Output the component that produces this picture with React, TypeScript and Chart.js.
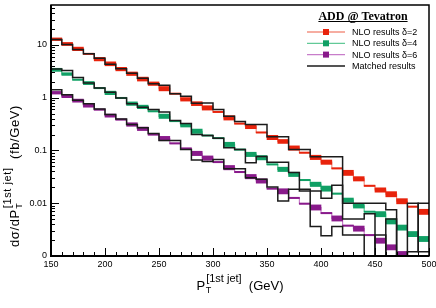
import React, { useEffect, useRef } from 'react';
import { Chart, registerables } from 'chart.js';

Chart.register(...registerables);

// ---- data ----
const binLow = [150, 160, 170, 180, 190, 200, 210, 220, 230, 240, 250, 260, 270, 280, 290, 300, 310, 320, 330, 340, 350, 360, 370, 380, 390, 400, 410, 420, 430, 440, 450, 460, 470, 480, 490];
const binUpperEnd = 500;

const nloDelta2 = [12.8, 10.4, 8.4, 6.76, 5.37, 4.38, 3.48, 2.84, 2.25, 1.84, 1.48, 1.19, 0.93, 0.77, 0.64, 0.537, 0.414, 0.323, 0.284, 0.219, 0.176, 0.148, 0.111, 0.0906, 0.0738, 0.0599, 0.0457, 0.0376, 0.029, 0.0214, 0.0178, 0.0148, 0.0109, 0.0086, 0.00686];
const relErrDelta2 = [0.06, 0.07, 0.08, 0.03, 0.08, 0.09, 0.08, 0.08, 0.09, 0.08, 0.1, 0.03, 0.08, 0.09, 0.1, 0.03, 0.1, 0.03, 0.1, 0.03, 0.1, 0.09, 0.1, 0.03, 0.1, 0.1, 0.03, 0.12, 0.1, 0.03, 0.1, 0.12, 0.12, 0.03, 0.12];

const nloDelta4 = [3.37, 2.8, 2.19, 1.89, 1.52, 1.23, 0.987, 0.77, 0.668, 0.552, 0.444, 0.36, 0.3, 0.231, 0.192, 0.171, 0.13, 0.104, 0.0841, 0.0728, 0.0544, 0.0438, 0.0352, 0.0275, 0.0228, 0.0189, 0.0152, 0.0114, 0.0089, 0.0069, 0.0062, 0.00452, 0.00345, 0.0026, 0.0021];
const relErrDelta4 = [0.07, 0.06, 0.03, 0.07, 0.03, 0.08, 0.03, 0.08, 0.08, 0.03, 0.1, 0.03, 0.08, 0.1, 0.03, 0.03, 0.1, 0.03, 0.1, 0.1, 0.03, 0.1, 0.1, 0.03, 0.1, 0.12, 0.03, 0.1, 0.1, 0.03, 0.12, 0.12, 0.12, 0.12, 0.12];

const nloDelta6 = [1.24, 1.06, 0.878, 0.706, 0.594, 0.457, 0.385, 0.31, 0.257, 0.2, 0.168, 0.136, 0.109, 0.0878, 0.0716, 0.0602, 0.0472, 0.039, 0.0319, 0.0264, 0.0189, 0.0168, 0.0126, 0.0098, 0.0083, 0.0065, 0.00514, 0.00376, 0.0033, 0.00249, 0.00195, 0.00146, 0.00109, 0.0008, 0.0006];
const relErrDelta6 = [0.06, 0.06, 0.07, 0.07, 0.03, 0.07, 0.03, 0.08, 0.08, 0.03, 0.1, 0.03, 0.03, 0.1, 0.1, 0.03, 0.1, 0.03, 0.1, 0.1, 0.03, 0.12, 0.03, 0.03, 0.12, 0.03, 0.12, 0.03, 0.12, 0.03, 0.12, 0.12, 0.12, 0.12, 0.12];

const matchedDelta2 = [12.7, 10.2, 8.2, 6.8, 5.56, 4.29, 3.53, 2.9, 2.33, 1.84, 1.71, 1.19, 1.06, 0.788, 0.795, 0.594, 0.444, 0.352, 0.31, 0.31, 0.181, 0.181, 0.104, 0.104, 0.076, 0.076, 0.076, 0.01, 0.01, 0.01, 0.01, 0.0075, 0, 0.01, 0.0012];
const matchedDelta4 = [3.48, 3.27, 2.42, 1.89, 1.52, 1.26, 0.987, 0.77, 0.656, 0.594, 0.537, 0.368, 0.323, 0.2, 0.192, 0.171, 0.112, 0.104, 0.0586, 0.077, 0.06, 0.06, 0.038, 0.0171, 0.0171, 0.0124, 0.0219, 0.005, 0.005, 0.0063, 0, 0.005, 0, 0.0012, 0.01];
const matchedDelta6 = [1.42, 1.14, 0.889, 0.77, 0.612, 0.478, 0.396, 0.31, 0.268, 0.209, 0.154, 0.154, 0.104, 0.0656, 0.062, 0.0676, 0.0451, 0.0451, 0.0305, 0.0284, 0.0203, 0.011, 0.0184, 0.0184, 0.00363, 0.00242, 0.00363, 0.0025, 0.0025, 0, 0.0025, 0, 0, 0, 0];

const xTickValues = [150, 200, 250, 300, 350, 400, 450, 500];
const xTickLabels = ['150', '200', '250', '300', '350', '400', '450', '500'];
const yTickValues = [10, 1, 0.1, 0.01, 0.001];
const yTickLabels = ['10', '1', '0.1', '0.01', '0'];
const yMin = 0.001;
const yMax = 57;

const legendTitle = 'ADD @ Tevatron';
const legendLabels = ['NLO results \u03b4=2', 'NLO results \u03b4=4', 'NLO results \u03b4=6', 'Matched results'];

// ---- styles ----
const bandColors = ['#e8230c', '#10a065', '#891a8b'];
const lineColors = ['#f39282', '#62c997', '#c87dca'];
const matchedColor = '#1b1b1b';
const SANS = '"Liberation Sans", Arial, Helvetica, sans-serif';
const SERIF = '"Liberation Serif", "Times New Roman", serif';

const edges = [...binLow, binUpperEnd];
const OFF_SCALE = 1e-6;

function stepPoints(vals: number[]) {
  return edges.map((x, i) => {
    const v = vals[Math.min(i, vals.length - 1)];
    return { x, y: v > 0 ? v : OFF_SCALE };
  });
}

function bandBars(vals: number[], errs: number[]) {
  return binLow.map((lo, i) => {
    const hi = edges[i + 1];
    const v = vals[i];
    const e = errs[i];
    return { x: (lo + hi) / 2, y: [v / (1 + e), v * (1 + e)] };
  });
}

function drawRichTitle(ctx: CanvasRenderingContext2D, main1: string, sub: string, sup: string, main2: string, mainSize: number, subSize: number, supSize: number, spacing: number) {
  (ctx as any).letterSpacing = `${spacing}px`;
  ctx.font = `${mainSize}px ${SANS}`;
  const w1 = ctx.measureText(main1).width;
  ctx.font = `${subSize}px ${SANS}`;
  const wSub = ctx.measureText(sub).width;
  ctx.font = `${supSize}px ${SANS}`;
  const wSup = ctx.measureText(sup).width;
  ctx.font = `${mainSize}px ${SANS}`;
  const w2 = ctx.measureText(main2).width;
  const total = w1 + Math.max(wSub, wSup) + 1 + w2;
  let x = -total / 2;
  ctx.textAlign = 'left';
  ctx.textBaseline = 'alphabetic';
  ctx.font = `${mainSize}px ${SANS}`;
  ctx.fillText(main1, x, 0);
  x += w1;
  ctx.font = `${subSize}px ${SANS}`;
  ctx.fillText(sub, x + 0.5, 3);
  ctx.font = `${supSize}px ${SANS}`;
  ctx.fillText(sup, x + 1, -8);
  x += Math.max(wSub, wSup) + 1;
  ctx.font = `${mainSize}px ${SANS}`;
  ctx.fillText(main2, x, 0);
  (ctx as any).letterSpacing = '0px';
}

const rootStylePlugin = {
  id: 'rootStyle',
  afterDraw(chart: any) {
    const { ctx, chartArea: a, scales } = chart;
    const xs = scales.x;
    const ys = scales.y;
    ctx.save();
    ctx.fillStyle = '#000';
    ctx.strokeStyle = '#000';

    // x ticks
    ctx.lineWidth = 1;
    for (let v = binLow[0]; v <= binUpperEnd; v += 10) {
      const px = Math.round(xs.getPixelForValue(v)) + 0.5;
      const major = xTickValues.includes(v);
      ctx.beginPath();
      ctx.moveTo(px, a.bottom);
      ctx.lineTo(px, a.bottom - (major ? 8 : 4));
      ctx.stroke();
    }
    // y ticks
    for (let d = -3; d <= 1; d++) {
      for (let m = 1; m <= 9; m++) {
        const v = m * Math.pow(10, d);
        if (v < yMin || v > yMax) continue;
        const py = Math.round(ys.getPixelForValue(v)) + 0.5;
        ctx.beginPath();
        ctx.moveTo(a.left, py);
        ctx.lineTo(a.left + (m === 1 ? 8 : 4), py);
        ctx.stroke();
      }
    }

    // frame
    ctx.lineWidth = 1.5;
    ctx.strokeRect(a.left, a.top, a.right - a.left, a.bottom - a.top);
    ctx.lineWidth = 2;
    ctx.beginPath();
    ctx.moveTo(a.left, a.top);
    ctx.lineTo(a.left, a.bottom);
    ctx.lineTo(a.right, a.bottom);
    ctx.stroke();

    // tick labels
    ctx.font = `9px ${SANS}`;
    ctx.textAlign = 'center';
    ctx.textBaseline = 'top';
    xTickValues.forEach((v, i) => {
      ctx.fillText(xTickLabels[i], xs.getPixelForValue(v), a.bottom + 4);
    });
    ctx.textAlign = 'right';
    ctx.textBaseline = 'middle';
    yTickValues.forEach((v, i) => {
      ctx.fillText(yTickLabels[i], a.left - 4, ys.getPixelForValue(v));
    });

    // x title
    ctx.save();
    ctx.translate((a.left + a.right) / 2, 290);
    drawRichTitle(ctx, 'P', 'T', '[1st jet]', '  (GeV)', 13, 9, 11, 0);
    ctx.restore();

    // y title
    ctx.save();
    ctx.translate(19, 176);
    ctx.rotate(-Math.PI / 2);
    drawRichTitle(ctx, 'd\u03c3/dP', 'T', '[1st jet]', '  (fb/GeV)', 13, 9, 11, 0.6);
    ctx.restore();

    // legend
    ctx.font = `bold 12px ${SERIF}`;
    ctx.textAlign = 'center';
    ctx.textBaseline = 'alphabetic';
    const tcx = 363;
    ctx.fillText(legendTitle, tcx, 20);
    const tw = ctx.measureText(legendTitle).width;
    ctx.lineWidth = 1;
    ctx.beginPath();
    ctx.moveTo(tcx - tw / 2, 21.5);
    ctx.lineTo(tcx + tw / 2, 21.5);
    ctx.stroke();

    const rowY = [32, 43.3, 54.6, 66];
    legendLabels.forEach((label, i) => {
      const y = rowY[i];
      if (i < 3) {
        ctx.strokeStyle = lineColors[i];
        ctx.lineWidth = 1.3;
        ctx.beginPath();
        ctx.moveTo(307, y);
        ctx.lineTo(345, y);
        ctx.stroke();
        ctx.fillStyle = bandColors[i];
        ctx.fillRect(323, y - 3, 6, 6);
      } else {
        ctx.strokeStyle = matchedColor;
        ctx.lineWidth = 1.5;
        ctx.beginPath();
        ctx.moveTo(307, y);
        ctx.lineTo(345, y);
        ctx.stroke();
      }
      ctx.fillStyle = '#000';
      ctx.font = `9px ${SANS}`;
      ctx.textAlign = 'left';
      ctx.textBaseline = 'middle';
      ctx.fillText(label, 352, y + 0.5);
    });

    ctx.restore();
  },
};

export default function App() {
  const canvasRef = useRef<HTMLCanvasElement | null>(null);

  useEffect(() => {
    document.body.style.margin = '0';
    const canvas = canvasRef.current;
    if (!canvas) return;

    const nlo = [nloDelta2, nloDelta4, nloDelta6];
    const errs = [relErrDelta2, relErrDelta4, relErrDelta6];
    const matched = [matchedDelta2, matchedDelta4, matchedDelta6];

    const datasets: any[] = [];
    nlo.forEach((vals, i) => {
      datasets.push({
        type: 'line',
        data: stepPoints(vals),
        stepped: 'before',
        borderColor: lineColors[i],
        borderWidth: 1.2,
        pointRadius: 0,
        fill: false,
        order: 3,
      });
    });
    nlo.forEach((vals, i) => {
      datasets.push({
        type: 'bar',
        data: bandBars(vals, errs[i]),
        backgroundColor: bandColors[i],
        borderWidth: 0,
        grouped: false,
        barPercentage: 1,
        categoryPercentage: 1,
        order: 2,
      });
    });
    matched.forEach((vals) => {
      datasets.push({
        type: 'line',
        data: stepPoints(vals),
        stepped: 'before',
        borderColor: matchedColor,
        borderWidth: 1.5,
        pointRadius: 0,
        fill: false,
        order: 1,
      });
    });

    const chart = new Chart(canvas, {
      type: 'bar',
      data: { datasets },
      options: {
        responsive: false,
        animation: false,
        devicePixelRatio: 1,
        layout: { padding: { left: 51, right: 7, top: 5, bottom: 52 } },
        plugins: { legend: { display: false }, tooltip: { enabled: false } },
        scales: {
          x: { type: 'linear', min: binLow[0], max: binUpperEnd, offset: false, display: false },
          y: { type: 'logarithmic', min: yMin, max: yMax, display: false },
        },
      },
      plugins: [rootStylePlugin],
    } as any);

    return () => chart.destroy();
  }, []);

  return (
    <div style={{ width: 436, height: 308, background: '#fff' }}>
      <canvas ref={canvasRef} width={436} height={308} />
    </div>
  );
}
